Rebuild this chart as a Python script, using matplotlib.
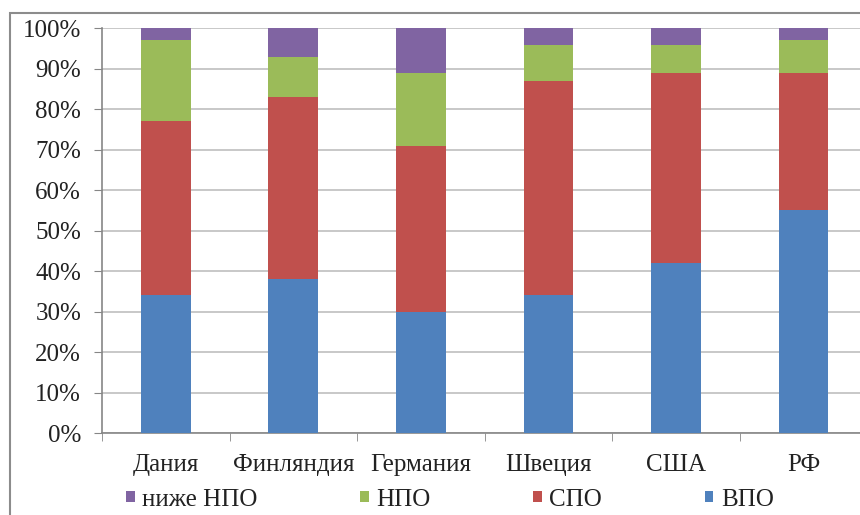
import matplotlib.pyplot as plt
from matplotlib.patches import Rectangle
import numpy as np

plt.rcParams['font.family'] = ['Liberation Serif', 'DejaVu Serif']

# Структура образования по странам, %
страны = ['Дания', 'Финляндия', 'Германия', 'Швеция', 'США', 'РФ']
впо = [34, 38, 30, 34, 42, 55]
спо = [43, 45, 41, 53, 47, 34]
нпо = [20, 10, 18, 9, 7, 8]
ниже_нпо = [3, 7, 11, 4, 4, 3]

цвета = {'ВПО': '#4F81BD', 'СПО': '#C0504D', 'НПО': '#9BBB59', 'ниже НПО': '#8064A2'}

fig = plt.figure(figsize=(8.6, 5.15), dpi=100)
ax = fig.add_axes([0.1186, 0.159, 0.89, 0.786])

x = np.arange(len(страны))
w = 0.39
низ = np.zeros(len(страны))
for имя, вал in [('ВПО', впо), ('СПО', спо), ('НПО', нпо), ('ниже НПО', ниже_нпо)]:
    ax.bar(x, вал, w, bottom=низ, color=цвета[имя], label=имя, zorder=3)
    низ += np.array(вал)

ax.set_xlim(-0.5, len(страны) - 0.5)
ax.set_ylim(0, 100)
ax.set_yticks(range(0, 101, 10))
ax.set_yticklabels([f'{v}%' for v in range(0, 101, 10)], fontsize=18, color='#222222')
ax.set_xticks(x)
ax.set_xticklabels(страны, fontsize=18, color='#222222')
ax.set_xticks(np.arange(-0.5, len(страны), 1), minor=True)
ax.tick_params(axis='x', which='major', length=0, pad=15)
ax.tick_params(axis='x', which='minor', length=6, color='#868686', direction='out')
ax.tick_params(axis='y', length=6, color='#868686', pad=9)
ax.grid(axis='y', color='#BFBFBF', linewidth=1.2, zorder=0)

for s in ['top', 'right']:
    ax.spines[s].set_visible(False)
for s in ['left', 'bottom']:
    ax.spines[s].set_color('#868686')
    ax.spines[s].set_linewidth(1.2)

# легенда в обратном порядке
h, l = ax.get_legend_handles_labels()
leg = fig.legend(h[::-1], l[::-1], loc='center', bbox_to_anchor=(0.523, 0.03), ncol=4,
                 frameon=False, fontsize=18, handlelength=0.35, handleheight=0.35,
                 handletextpad=0.3, columnspacing=4.1)
for t in leg.get_texts():
    t.set_color('#222222')

# рамка диаграммы
fig.patches.append(Rectangle((10 / 860, -0.1), 1.2, 1.1 - 13 / 515,
                             transform=fig.transFigure, fill=False,
                             edgecolor='#8C8C8C', linewidth=1.5))

fig.savefig('out.png', dpi=100)
